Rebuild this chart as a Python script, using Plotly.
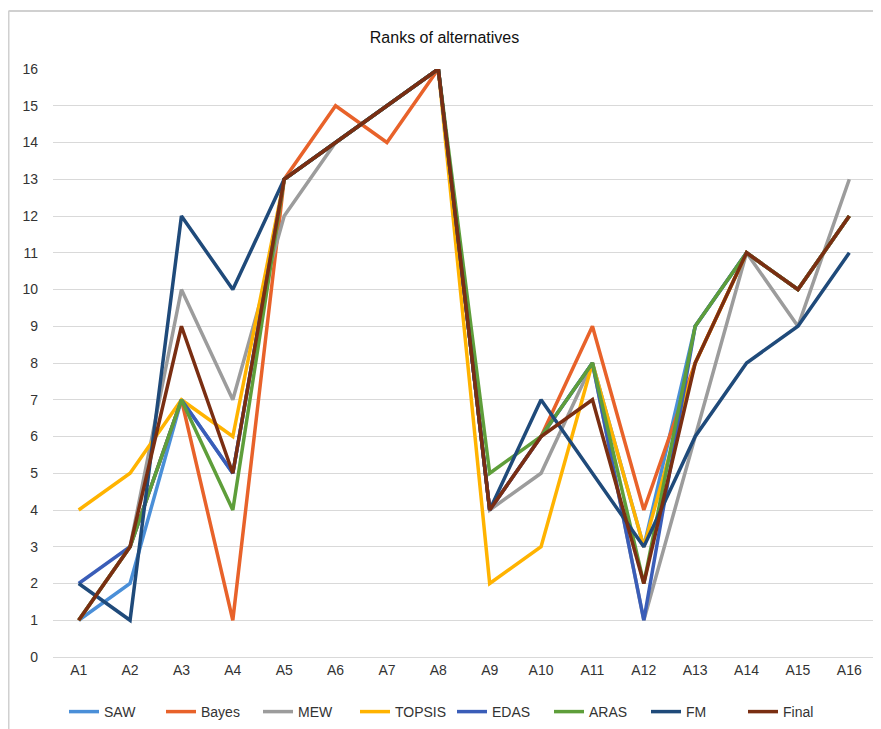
import plotly.graph_objects as go

categories = ["A1","A2","A3","A4","A5","A6","A7","A8","A9","A10","A11","A12","A13","A14","A15","A16"]

saw    = [1, 2, 7, 5, 13, 14, 15, 16, 4, 6, 8, 3, 9, 11, 10, 12]
bayes  = [1, 3, 7, 1, 13, 15, 14, 16, 4, 6, 9, 4, 8, 11, 10, 12]
mew    = [1, 3, 10, 7, 12, 14, 15, 16, 4, 5, 8, 1, 6, 11, 9, 13]
topsis = [4, 5, 7, 6, 13, 14, 15, 16, 2, 3, 8, 3, 8, 11, 10, 12]
edas   = [2, 3, 7, 5, 13, 14, 15, 16, 4, 6, 8, 1, 9, 11, 10, 12]
aras   = [1, 3, 7, 4, 13, 14, 15, 16, 5, 6, 8, 2, 9, 11, 10, 12]
fm     = [2, 1, 12, 10, 13, 14, 15, 16, 4, 7, 5, 3, 6, 8, 9, 11]
final  = [1, 3, 9, 5, 13, 14, 15, 16, 4, 6, 7, 2, 8, 11, 10, 12]

series_names = ["SAW", "Bayes", "MEW", "TOPSIS", "EDAS", "ARAS", "FM", "Final"]
series_values = [saw, bayes, mew, topsis, edas, aras, fm, final]
colors = ["#4A8FD8", "#E8622A", "#9C9C9C", "#FFB300", "#3A5DB8", "#5E9E3A", "#1F4A7A", "#7A2E12"]
y_ticks = list(range(0, 17))

fig = go.Figure()
for name, vals, col in zip(series_names, series_values, colors):
    fig.add_trace(go.Scatter(x=categories, y=vals, name=name, mode="lines",
                             line=dict(color=col, width=3.5)))

# page body has an 8px offset; figure sized to fit the window
W, H = 873, 721
ml, mr, mt, mb = 45, 6, 61, 72
pw, ph = W - ml - mr, H - mt - mb

fig.update_layout(
    width=W, height=H,
    margin=dict(l=ml, r=mr, t=mt, b=mb),
    paper_bgcolor="white", plot_bgcolor="white",
    font=dict(family="Liberation Sans, Arial, sans-serif", size=14, color="#333333"),
    title=dict(text="Ranks of alternatives", x=0.5, xanchor="center", y=1 - 29 / H, yanchor="middle",
               font=dict(size=16, color="#111111")),
    showlegend=True,
    legend=dict(orientation="h", xref="container", yref="container",
                x=(64 - 8) / W, xanchor="left", y=(H - (712 - 8)) / H, yanchor="middle",
                font=dict(size=14, color="#333333"), entrywidth=52, entrywidthmode="pixels",
                tracegroupgap=0),
    xaxis=dict(type="category", showgrid=False, showline=True, linecolor="#D9D9D9", linewidth=1,
               ticks="", tickfont=dict(size=14, color="#333333"), range=[-0.5, 15.5]),
    yaxis=dict(range=[0, 16], tickvals=y_ticks, showgrid=True, gridcolor="#D9D9D9", gridwidth=1,
               zeroline=False, ticks="", tickfont=dict(size=14, color="#333333"), ticklabelstandoff=14),
)

# chart frame (visible top and left edges)
fig.add_shape(type="line", xref="paper", yref="paper",
              x0=-(ml - 0.5) / pw, x1=1 + mr / pw,
              y0=1 + (mt - 3) / ph, y1=1 + (mt - 3) / ph,
              line=dict(color="#D0D0D0", width=2))
fig.add_shape(type="line", xref="paper", yref="paper",
              x0=-(ml - 0.5) / pw, x1=-(ml - 0.5) / pw,
              y0=-mb / ph, y1=1 + (mt - 3) / ph,
              line=dict(color="#D0D0D0", width=2))

fig.write_html("out.html")
